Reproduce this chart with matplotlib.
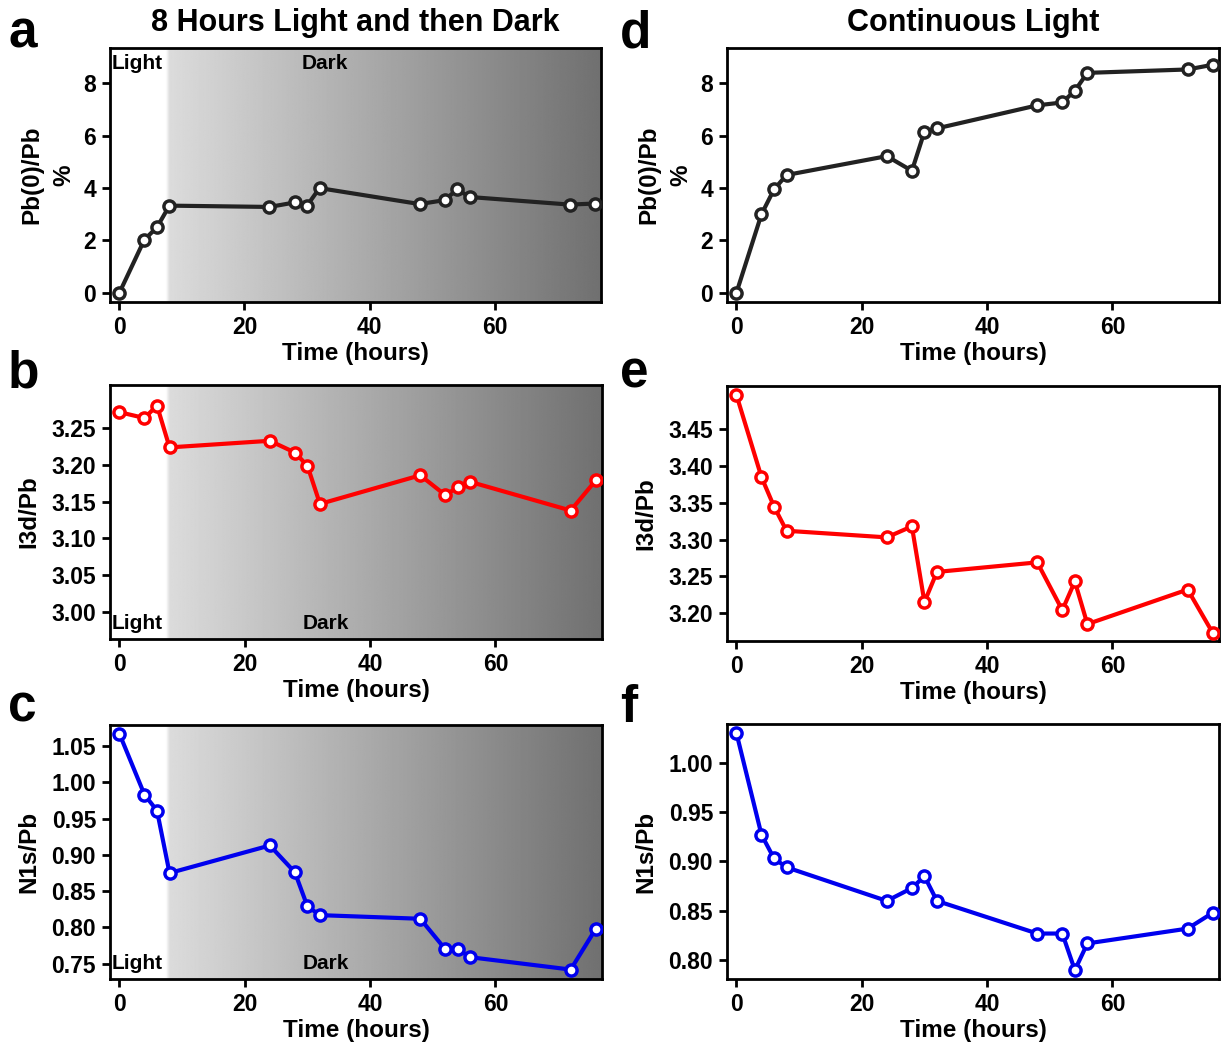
import numpy as np
import matplotlib
matplotlib.use("Agg")
import matplotlib.pyplot as plt

plt.rcParams['font.family'] = ['Liberation Sans', 'DejaVu Sans']
plt.rcParams['font.weight'] = 'bold'

# ---------------- data ----------------
time_h = [0, 4, 6, 8, 24, 28, 30, 32, 48, 52, 54, 56, 72, 76]

pb0_dark = [0.0, 2.03, 2.5, 3.33, 3.28, 3.45, 3.33, 4.0, 3.39, 3.54, 3.95, 3.66, 3.37, 3.41]
i3d_dark = [3.272, 3.264, 3.281, 3.224, 3.233, 3.217, 3.199, 3.147, 3.186, 3.159, 3.170, 3.177, 3.138, 3.179]
n1s_dark = [1.067, 0.983, 0.961, 0.875, 0.913, 0.876, 0.829, 0.817, 0.812, 0.770, 0.770, 0.759, 0.742, 0.798]

pb0_light = [0.0, 3.0, 3.95, 4.5, 5.22, 4.66, 6.15, 6.28, 7.16, 7.27, 7.72, 8.4, 8.53, 8.71]
i3d_light = [3.497, 3.385, 3.345, 3.312, 3.303, 3.318, 3.215, 3.256, 3.269, 3.204, 3.243, 3.185, 3.232, 3.173]
n1s_light = [1.030, 0.927, 0.903, 0.894, 0.860, 0.873, 0.885, 0.860, 0.827, 0.827, 0.790, 0.817, 0.832, 0.848]

light_end = 8
xticks = [0, 20, 40, 60]

FS_TICK = 16.5
FS_LAB = 17.5
FS_TITLE = 22
FS_LD = 15

W, H = 1224, 1045
fig = plt.figure(figsize=(W / 100, H / 100), dpi=100)


def add_ax(l, r, t, b):
    return fig.add_axes([l / W, 1 - b / H, (r - l) / W, (b - t) / H])


def style(ax, ylim, yticks, yfmt, ylabel, lpad=8):
    ax.set_xlim(-1.5, 77)
    ax.set_ylim(*ylim)
    ax.set_xticks(xticks)
    ax.set_yticks(yticks)
    ax.set_yticklabels([yfmt.format(v) for v in yticks])
    for s in ax.spines.values():
        s.set_linewidth(2)
    ax.tick_params(axis='both', direction='out', length=6, width=2,
                   labelsize=FS_TICK, pad=4)
    for lab in ax.get_xticklabels() + ax.get_yticklabels():
        lab.set_fontweight('bold')
    ax.set_xlabel('Time (hours)', fontsize=FS_LAB, fontweight='bold', labelpad=2)
    ax.set_ylabel(ylabel, fontsize=FS_LAB, fontweight='bold', labelpad=lpad,
                  linespacing=1.5)


def gradient(ax, ylim):
    xs = np.linspace(-1.5, 77, 800)
    vals = np.where(xs < light_end, 1.0,
                    0.86 - (xs - light_end) / (77 - light_end) * 0.42)
    edge = (xs >= light_end - 0.6) & (xs < light_end)
    vals[edge] = 1.0 - (xs[edge] - (light_end - 0.6)) / 0.6 * 0.14
    img = np.tile(vals, (2, 1))
    ax.imshow(img, cmap='gray', vmin=0, vmax=1, aspect='auto',
              extent=[-1.5, 77, ylim[0], ylim[1]], zorder=0,
              interpolation='bilinear')


def series(ax, y, color):
    ax.plot(time_h, y, '-', color=color, lw=3, zorder=3)
    ax.plot(time_h, y, 'o', color=color, ms=9.5, zorder=4)
    ax.plot(time_h, y, 'o', color='white', ms=4.5, zorder=5)


def light_dark_labels(ax, top):
    y = 0.975 if top else 0.025
    va = 'top' if top else 'bottom'
    tr = ax.get_xaxis_transform()
    ax.text(-1.3, y, 'Light', transform=tr, fontsize=FS_LD, fontweight='bold',
            va=va, ha='left', zorder=6)
    ax.text(29.2, y, 'Dark', transform=tr, fontsize=FS_LD, fontweight='bold',
            va=va, ha='left', zorder=6)


black = '#222222'
red = '#ff0000'
blue = '#0000ee'

# panel a
ylim_a = (-0.35, 9.35)
ax_a = add_ax(110, 601, 48, 302)
gradient(ax_a, ylim_a)
series(ax_a, pb0_dark, black)
style(ax_a, ylim_a, [0, 2, 4, 6, 8], '{:.0f}', 'Pb(0)/Pb\n%', lpad=6)
light_dark_labels(ax_a, True)
ax_a.set_title('8 Hours Light and then Dark', fontsize=FS_TITLE, fontweight='bold', pad=12)

# panel b
ylim_b = (2.963, 3.309)
ax_b = add_ax(110, 602, 385, 639)
gradient(ax_b, ylim_b)
series(ax_b, i3d_dark, red)
style(ax_b, ylim_b, [3.00, 3.05, 3.10, 3.15, 3.20, 3.25], '{:.2f}', 'I3d/Pb')
light_dark_labels(ax_b, False)

# panel c
ylim_c = (0.729, 1.079)
ax_c = add_ax(110, 602, 725, 979)
gradient(ax_c, ylim_c)
series(ax_c, n1s_dark, blue)
style(ax_c, ylim_c, [0.75, 0.80, 0.85, 0.90, 0.95, 1.00, 1.05], '{:.2f}', 'N1s/Pb')
light_dark_labels(ax_c, False)

# panel d
ylim_d = (-0.35, 9.35)
ax_d = add_ax(727, 1219, 48, 302)
series(ax_d, pb0_light, black)
style(ax_d, ylim_d, [0, 2, 4, 6, 8], '{:.0f}', 'Pb(0)/Pb\n%', lpad=6)
ax_d.set_title('Continuous Light', fontsize=FS_TITLE, fontweight='bold', pad=12)

# panel e
ylim_e = (3.162, 3.509)
ax_e = add_ax(727, 1219, 386, 641)
series(ax_e, i3d_light, red)
style(ax_e, ylim_e, [3.20, 3.25, 3.30, 3.35, 3.40, 3.45], '{:.2f}', 'I3d/Pb')

# panel f
ylim_f = (0.781, 1.039)
ax_f = add_ax(727, 1219, 724, 979)
series(ax_f, n1s_light, blue)
style(ax_f, ylim_f, [0.80, 0.85, 0.90, 0.95, 1.00], '{:.2f}', 'N1s/Pb')

# panel letters
for letter, x, y in [('a', 8, 48), ('b', 8, 388), ('c', 8, 722),
                     ('d', 620, 48), ('e', 620, 388), ('f', 620, 722)]:
    fig.text(x / W, 1 - y / H, letter, fontsize=37,
             fontweight='bold', ha='left', va='baseline')

fig.savefig('out.png', dpi=100)
